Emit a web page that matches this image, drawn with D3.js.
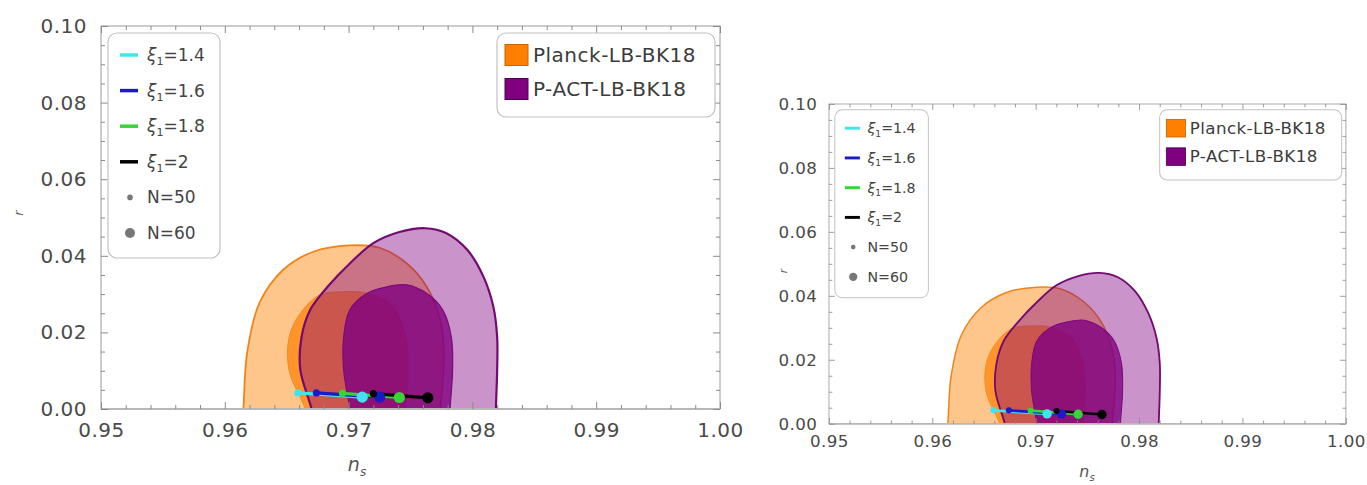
<!DOCTYPE html>
<html>
<head>
<meta charset="utf-8">
<script src="https://cdn.jsdelivr.net/npm/d3@7"></script>
<style>
body { margin: 0; background: #fff; }
svg { display: block; }
text { font-family: "DejaVu Sans", sans-serif; }
</style>
</head>
<body>
<svg id="chart" width="1367" height="485"></svg>
<script>
// axis ticks
const nsTicks = [0.95, 0.96, 0.97, 0.98, 0.99, 1.00]
const rTicks = [0, 0.02, 0.04, 0.06, 0.08, 0.10]

// model points, one line per xi from N=50 to N=60
const xiValues = [1.4, 1.6, 1.8, 2]
const ns50 = [0.9659, 0.9674, 0.9695, 0.9720]
const r50 = [0.0042, 0.0042, 0.0041, 0.0040]
const ns60 = [0.9711, 0.9725, 0.9741, 0.9764]
const r60 = [0.0031, 0.0031, 0.0030, 0.0029]

// contour boundaries [ns, r]
const planckOuter = [[0.9614,-0.003],[0.9615,0],[0.9618,0.0146],[0.9628,0.0277],[0.9647,0.0363],[0.9671,0.041],
  [0.9701,0.0427],[0.9725,0.0421],[0.9747,0.038],[0.9763,0.032],[0.9774,0.0232],[0.9777,0.0146],[0.9774,0],[0.9773,-0.003]]
const planckInner = [[0.9667,-0.003],[0.9665,0],[0.9652,0.0100],[0.9652,0.0188],[0.9661,0.025],[0.9677,0.0298],
  [0.9695,0.0306],[0.9715,0.0302],[0.9735,0.027],[0.9746,0.019],[0.9748,0.010],[0.9746,0],[0.9745,-0.003]]
const pactOuter = [[0.9671,-0.003],[0.967,0],[0.9661,0.0102],[0.9662,0.0188],[0.9669,0.0259],[0.9683,0.0319],
  [0.9701,0.038],[0.972,0.0433],[0.9741,0.0462],[0.9762,0.0472],[0.9779,0.0459],[0.9796,0.0415],[0.9809,0.0345],
  [0.9817,0.0266],[0.982,0.0188],[0.982,0.0102],[0.9819,0],[0.9819,-0.003]]
const pactInner = [[0.9702,-0.003],[0.9701,0],[0.9696,0.0102],[0.9696,0.0188],[0.9701,0.0259],[0.9715,0.0302],
  [0.9731,0.0319],[0.9747,0.0324],[0.9763,0.0302],[0.9776,0.0259],[0.9783,0.0188],[0.9784,0.0102],[0.9782,0],[0.9782,-0.003]]

const datasets = ['Planck-LB-BK18', 'P-ACT-LB-BK18']
const xiColors = ['#40e4ee', '#1a1ac8', '#36d436', '#000000']

const W = 619, H = 383
const x = d3.scaleLinear().domain([0.95, 1]).range([0, W])
const y = d3.scaleLinear().domain([0, 0.1]).range([H, 0])

const svg = d3.select('#chart')
svg.append('rect').attr('width', 1367).attr('height', 485).attr('fill', '#fff')

svg.append('defs').append('clipPath').attr('id', 'plotclip')
  .append('rect').attr('width', W).attr('height', H)

const contourLine = d3.line()
  .x(d => x(d[0]))
  .y(d => y(d[1]))
  .curve(d3.curveCatmullRom.alpha(0.5))

function drawPanel(transform, rLabel, nsLabel) {
  const g = svg.append('g').attr('transform', transform)

  // contours
  const c = g.append('g').attr('clip-path', 'url(#plotclip)')
  c.append('path').attr('d', contourLine(planckOuter) + 'Z')
    .attr('fill', '#ff8000').attr('fill-opacity', 0.45)
    .attr('stroke', '#f08418').attr('stroke-width', 1.8)
  c.append('path').attr('d', contourLine(planckInner) + 'Z')
    .attr('fill', '#ff8000').attr('fill-opacity', 0.7)
    .attr('stroke', '#f28a20').attr('stroke-width', 1)
  c.append('path').attr('d', contourLine(pactOuter) + 'Z')
    .attr('fill', '#800080').attr('fill-opacity', 0.42)
    .attr('stroke', '#720a72').attr('stroke-width', 2.2)
  c.append('path').attr('d', contourLine(pactInner) + 'Z')
    .attr('fill', '#800080').attr('fill-opacity', 0.8)
    .attr('stroke', '#7a0a7a').attr('stroke-width', 1.2)

  // model lines then dots
  xiValues.forEach((xi, i) => {
    c.append('line')
      .attr('x1', x(ns50[i])).attr('y1', y(r50[i]))
      .attr('x2', x(ns60[i])).attr('y2', y(r60[i]))
      .attr('stroke', xiColors[i]).attr('stroke-width', 3.2)
  })
  xiValues.forEach((xi, i) => {
    c.append('circle').attr('cx', x(ns50[i])).attr('cy', y(r50[i])).attr('r', 3.6).attr('fill', xiColors[i])
    c.append('circle').attr('cx', x(ns60[i])).attr('cy', y(r60[i])).attr('r', 5.6).attr('fill', xiColors[i])
  })

  // frame
  g.append('rect').attr('width', W).attr('height', H)
    .attr('fill', 'none').attr('stroke', '#9a9a9a').attr('stroke-width', 1)
  g.append('line').attr('x1', 0).attr('x2', W).attr('y1', H).attr('y2', H)
    .attr('stroke', '#b8b8b8').attr('stroke-width', 2.2)

  const nsMinor = d3.range(0, 26).filter(i => i % 5 != 0).map(i => 0.95 + i * 0.002)
  const rMinor = d3.range(0, 21).filter(i => i % 4 != 0).map(i => i * 0.005)

  const axes = [
    [d3.axisBottom(x), `translate(0,${H})`, nsTicks, nsMinor],
    [d3.axisTop(x), 'translate(0,0)', nsTicks, nsMinor],
    [d3.axisLeft(y), 'translate(0,0)', rTicks, rMinor],
    [d3.axisRight(y), `translate(${W},0)`, rTicks, rMinor]
  ]
  axes.forEach(([ax, tr, major, minor], k) => {
    const showLabels = k == 0 || k == 2
    const a1 = g.append('g').attr('transform', tr)
      .call(ax.tickValues(major).tickSize(-7).tickPadding(showLabels ? 14 : 0)
        .tickFormat(showLabels ? d3.format('.2f') : ''))
    const a2 = g.append('g').attr('transform', tr)
      .call(ax.tickValues(minor).tickSize(-4).tickFormat(''))
    ;[a1, a2].forEach(a => {
      a.select('.domain').remove()
      a.selectAll('.tick line').attr('stroke', '#8a8a8a').attr('stroke-width', 1)
    })
    a1.selectAll('.tick text')
      .attr('fill', '#4a4a4a').attr('font-size', 20).attr('letter-spacing', 0.5)
      .style('font-family', '"DejaVu Sans", sans-serif')
  })
  g.selectAll('.tick text').filter(function () { return this.textContent == '' }).remove()

  // axis titles
  g.append('text')
    .attr('transform', `translate(${rLabel[0]},${rLabel[1]}) rotate(-90)`)
    .attr('text-anchor', 'middle').attr('dy', '0.35em')
    .attr('font-size', 13).attr('font-style', 'italic').attr('fill', '#666')
    .text('r')
  const nsT = g.append('text')
    .attr('x', nsLabel[0]).attr('y', nsLabel[1]).attr('dy', '0.3em')
    .attr('text-anchor', 'middle').attr('font-size', 19).attr('font-style', 'italic').attr('fill', '#555')
  nsT.append('tspan').text('n')
  nsT.append('tspan').attr('dy', 5).attr('font-size', 12).text('s')

  // legend with lines and points
  const lg = g.append('g')
  lg.append('rect').attr('x', 7).attr('y', 7).attr('width', 112).attr('height', 225).attr('rx', 9)
    .attr('fill', '#fff').attr('stroke', '#c2c2c2').attr('stroke-width', 1.2)
  const rowY = i => 29 + i * 35.6
  xiValues.forEach((xi, i) => {
    lg.append('line').attr('x1', 19).attr('x2', 37).attr('y1', rowY(i)).attr('y2', rowY(i))
      .attr('stroke', xiColors[i]).attr('stroke-width', 3.5)
    const t = lg.append('text').attr('x', 46).attr('y', rowY(i)).attr('dy', '0.35em')
      .attr('font-size', 17).attr('fill', '#444')
    t.append('tspan').attr('font-style', 'italic').text('ξ')
    t.append('tspan').attr('dy', 4).attr('font-size', 11).text('1')
    t.append('tspan').attr('dy', -4).text('=' + xi)
  })
  ;[[50, 2.8], [60, 5]].forEach(([n, rad], j) => {
    const yy = rowY(4 + j)
    lg.append('circle').attr('cx', 29).attr('cy', yy).attr('r', rad).attr('fill', '#777')
    lg.append('text').attr('x', 46).attr('y', yy).attr('dy', '0.35em')
      .attr('font-size', 17).attr('fill', '#444').text('N=' + n)
  })

  // legend with datasets
  const dg = g.append('g')
  dg.append('rect').attr('x', 396).attr('y', 7).attr('width', 218).attr('height', 84).attr('rx', 9)
    .attr('fill', '#fff').attr('stroke', '#c2c2c2').attr('stroke-width', 1.2)
  const swatch = [['#ff8000', '#c86400'], ['#800080', '#4e004e']]
  datasets.forEach((name, i) => {
    const yy = 29 + i * 34
    dg.append('rect').attr('x', 404).attr('y', yy - 10.5).attr('width', 23).attr('height', 21)
      .attr('fill', swatch[i][0]).attr('stroke', swatch[i][1]).attr('stroke-width', 1)
    dg.append('text').attr('x', 432).attr('y', yy).attr('dy', '0.35em')
      .attr('font-size', 20).attr('letter-spacing', 0.5).attr('fill', '#3c3c3c').text(name)
  })
}

drawPanel('translate(101,26)', [-83, 187], [256, 439])
drawPanel('translate(829,104) scale(0.835)', [-55, 200], [309, 441])
</script>
</body>
</html>
